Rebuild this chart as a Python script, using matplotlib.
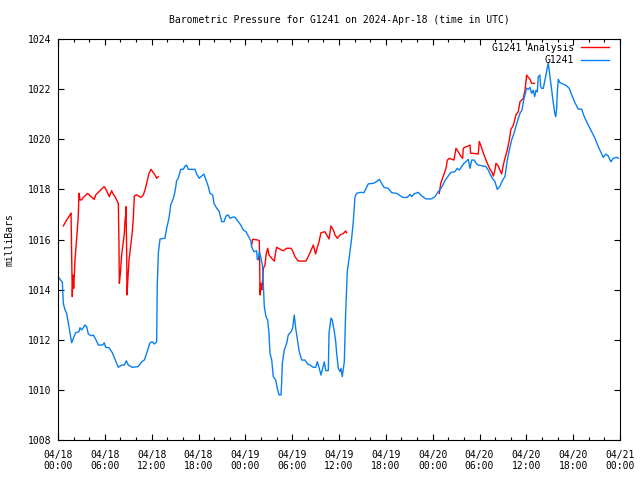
import numpy as np
import matplotlib
matplotlib.use("Agg")
import matplotlib.pyplot as plt
from matplotlib.ticker import MultipleLocator

# hours since 2024-04-18 00:00 UTC
station_hours = [
    0.00, 0.56, 0.68, 0.90, 1.11, 1.33, 1.54, 1.75, 1.97, 2.26, 2.69, 2.82, 3.03, 3.46, 3.67,
    3.88, 4.23, 4.53, 4.83, 5.17, 5.72, 5.93, 6.10, 6.53, 6.96, 7.30, 7.73, 8.15, 8.50, 8.75,
    9.01, 9.52, 10.29, 10.72, 11.06, 11.36, 11.79, 12.08, 12.34, 12.64, 12.72, 12.85, 13.07,
    13.70, 13.92, 14.22, 14.44, 14.77, 14.99, 15.20, 15.41, 15.72, 16.06, 16.27, 16.48, 16.69,
    17.55, 17.77, 18.10, 18.40, 18.70, 18.96, 19.26, 19.47, 19.82, 19.98, 20.33, 20.66, 20.97,
    21.27, 21.52, 21.81, 22.03, 22.38, 22.67, 23.10, 23.41, 23.74, 24.09, 24.38, 24.69, 24.81,
    25.10, 25.45, 25.53, 25.66, 25.79, 25.97, 26.20, 26.43, 26.65, 26.86, 27.03, 27.16, 27.38,
    27.58, 27.89, 28.10, 28.31, 28.57, 28.66, 28.74, 28.99, 29.30, 29.50, 29.85, 30.06, 30.27,
    30.45, 30.71, 30.91, 31.22, 31.64, 31.99, 32.28, 32.71, 33.01, 33.22, 33.44, 33.69, 33.91,
    34.12, 34.30, 34.63, 34.72, 34.97, 35.14, 35.40, 35.58, 35.70, 35.91, 36.13, 36.26, 36.42,
    36.68, 36.85, 37.06, 37.32, 37.62, 37.83, 38.05, 38.27, 38.69, 39.20, 39.46, 39.75, 40.40,
    40.83, 41.17, 41.47, 41.76, 42.32, 42.75, 43.39, 44.16, 44.75, 45.10, 45.32, 45.61, 46.16,
    46.60, 47.14, 47.87, 48.30, 48.72, 49.15, 49.58, 50.00, 50.31, 50.86, 51.15, 51.41, 51.72,
    52.01, 52.27, 52.56, 52.78, 53.00, 53.34, 53.55, 53.84, 54.48, 54.83, 55.12, 55.56, 55.98,
    56.28, 56.62, 56.97, 57.26, 57.56, 57.82, 58.12, 58.42, 58.84, 59.19, 59.45, 59.66, 60.04,
    60.25, 60.47, 60.68, 60.89, 61.07, 61.24, 61.41, 61.53, 61.74, 61.83, 61.96, 62.17, 62.39,
    62.60, 62.81, 63.03, 63.25, 63.46, 63.64, 63.76, 63.89, 63.96, 64.09, 64.31, 64.73, 65.16,
    65.50, 65.81, 66.23, 66.65, 67.09, 67.42, 67.93, 68.37, 68.79, 69.22, 69.52, 69.86, 70.20,
    70.49, 70.84, 71.14, 71.58, 71.79,
]
station_mb = [
    1014.52, 1014.29, 1013.45, 1013.19, 1013.05, 1012.66, 1012.26, 1011.88, 1012.06, 1012.28,
    1012.32, 1012.48, 1012.39, 1012.59, 1012.52, 1012.23, 1012.16, 1012.19, 1012.02, 1011.79,
    1011.79, 1011.88, 1011.70, 1011.68, 1011.48, 1011.22, 1010.90, 1010.99, 1010.99, 1011.16,
    1010.99, 1010.90, 1010.93, 1011.12, 1011.19, 1011.46, 1011.88, 1011.92, 1011.83, 1011.92,
    1014.19, 1015.45, 1016.02, 1016.05, 1016.45, 1016.85, 1017.38, 1017.64, 1017.91, 1018.35,
    1018.44, 1018.80, 1018.80, 1018.93, 1018.97, 1018.80, 1018.80, 1018.61, 1018.44, 1018.53,
    1018.61, 1018.37, 1018.11, 1017.84, 1017.78, 1017.44, 1017.25, 1017.11, 1016.71, 1016.71,
    1016.94, 1016.98, 1016.85, 1016.89, 1016.89, 1016.71, 1016.58, 1016.38, 1016.31, 1016.14,
    1015.95, 1015.71, 1015.51, 1015.55, 1015.21, 1015.18, 1015.51, 1015.31, 1014.95, 1013.32,
    1012.92, 1012.79, 1012.26, 1011.46, 1011.19, 1010.53, 1010.39, 1010.06, 1009.80, 1009.80,
    1010.33, 1011.06, 1011.59, 1011.86, 1012.19, 1012.32, 1012.46, 1012.99, 1012.46, 1011.92,
    1011.52, 1011.19, 1011.19, 1011.03, 1010.99, 1010.90, 1010.90, 1011.12, 1010.90, 1010.59,
    1010.86, 1011.12, 1010.77, 1010.77, 1012.26, 1012.86, 1012.79, 1012.32, 1011.92, 1011.46,
    1010.86, 1010.73, 1010.86, 1010.53, 1011.12, 1013.05, 1014.72, 1015.31, 1016.05, 1016.71,
    1017.71, 1017.84, 1017.88, 1017.87, 1018.04, 1018.22, 1018.24, 1018.31, 1018.40, 1018.24,
    1018.08, 1018.04, 1017.87, 1017.84, 1017.68, 1017.68, 1017.80, 1017.71, 1017.82, 1017.88,
    1017.74, 1017.62, 1017.62, 1017.71, 1017.91, 1018.08, 1018.35, 1018.53, 1018.67, 1018.71,
    1018.84, 1018.77, 1018.91, 1019.04, 1019.11, 1019.20, 1018.84, 1019.17, 1019.17, 1019.04,
    1018.97, 1018.93, 1018.91, 1018.77, 1018.48, 1018.31, 1018.00, 1018.13, 1018.37, 1018.51,
    1019.17, 1019.57, 1019.97, 1020.24, 1020.70, 1021.04, 1021.17, 1021.57, 1022.04, 1021.99,
    1022.07, 1021.83, 1021.96, 1021.70, 1021.96, 1021.89, 1022.50, 1022.56, 1022.10, 1022.03,
    1022.03, 1022.37, 1022.70, 1023.04, 1022.50, 1021.96, 1021.44, 1021.04, 1020.90, 1021.23,
    1021.83, 1022.39, 1022.26, 1022.20, 1022.13, 1022.03, 1021.77, 1021.46, 1021.20, 1021.20,
    1020.90, 1020.57, 1020.30, 1020.04, 1019.70, 1019.50, 1019.28, 1019.41, 1019.33, 1019.10,
    1019.24, 1019.28, 1019.24,
]

# analysis runs, one list per day
analysis_hours_1 = [
    0.68, 1.11, 1.54, 1.67, 1.75, 1.83, 1.92, 2.01, 2.18, 2.31, 2.47, 2.60, 2.69, 2.82, 3.03,
    3.24, 3.80, 4.23, 4.65, 4.83, 5.38, 5.93, 6.23, 6.57, 6.88, 7.01, 7.30, 7.73, 7.81, 7.86,
    7.99, 8.15, 8.37, 8.50, 8.58, 8.67, 8.71, 8.80, 8.84, 8.97, 9.10, 9.35, 9.52, 9.65, 9.78,
    10.08, 10.63, 10.93, 11.15, 11.36, 11.66, 11.91, 12.12, 12.43, 12.64, 12.85,
]
analysis_mb_1 = [
    1016.54, 1016.78, 1016.98, 1017.05, 1015.38, 1013.72, 1014.58, 1014.05, 1015.18, 1015.74,
    1016.35, 1016.98, 1017.84, 1017.58, 1017.58, 1017.68, 1017.84, 1017.71, 1017.60, 1017.78,
    1017.95, 1018.11, 1017.95, 1017.71, 1017.95, 1017.84, 1017.71, 1017.44, 1015.85, 1014.25,
    1014.65, 1015.38, 1015.91, 1016.25, 1016.71, 1016.98, 1017.31, 1015.45, 1013.79, 1014.52,
    1015.18, 1015.85, 1016.31, 1016.85, 1017.74, 1017.78, 1017.68, 1017.78, 1017.98, 1018.24,
    1018.64, 1018.80, 1018.71, 1018.57, 1018.44, 1018.51,
]
analysis_hours_2 = [
    24.81, 24.94, 25.58, 25.79, 25.84, 25.88, 26.01, 26.10, 26.22, 26.31, 26.52, 26.65, 26.87,
    27.03, 27.38, 27.71, 27.89, 28.02, 28.44, 28.86, 29.30, 29.85, 30.06, 30.36, 30.78, 31.77,
    32.15, 32.71, 32.84, 33.00, 33.22, 33.44, 33.69, 34.20, 34.72, 34.97, 35.27, 35.49, 35.78,
    36.13, 36.56, 36.85, 36.98,
]
analysis_mb_2 = [
    1015.78, 1016.01, 1015.98, 1015.95, 1014.92, 1013.79, 1014.25, 1013.99, 1014.38, 1014.85,
    1014.98, 1015.38, 1015.65, 1015.38, 1015.25, 1015.14, 1015.51, 1015.69, 1015.61, 1015.55,
    1015.65, 1015.65, 1015.55, 1015.31, 1015.14, 1015.14, 1015.38, 1015.78, 1015.61, 1015.42,
    1015.69, 1015.91, 1016.27, 1016.31, 1016.02, 1016.54, 1016.38, 1016.18, 1016.05, 1016.18,
    1016.24, 1016.34, 1016.27,
]
analysis_hours_3 = [
    48.85, 49.03, 49.36, 49.71, 49.88, 50.14, 50.73, 50.99, 51.28, 51.59, 51.84, 51.92, 52.27,
    52.56, 52.78, 52.86, 53.11, 53.84, 53.97, 54.15, 54.36, 54.66, 55.00, 55.35, 55.56, 55.77,
    55.98, 56.11, 56.41, 56.62, 56.84, 57.05, 57.26, 57.56, 57.82, 58.00, 58.34, 58.67, 58.97,
    59.19, 59.61, 59.83, 60.04, 60.25, 60.47, 60.68, 61.04,
]
analysis_mb_3 = [
    1017.84, 1018.24, 1018.53, 1018.84, 1019.17, 1019.24, 1019.17, 1019.64, 1019.50, 1019.33,
    1019.24, 1019.64, 1019.70, 1019.73, 1019.77, 1019.44, 1019.44, 1019.41, 1019.91, 1019.77,
    1019.57, 1019.31, 1019.04, 1018.80, 1018.71, 1018.53, 1018.77, 1019.04, 1018.93, 1018.77,
    1018.61, 1018.97, 1019.24, 1019.57, 1019.97, 1020.37, 1020.57, 1020.97, 1021.10, 1021.50,
    1021.63, 1021.96, 1022.56, 1022.47, 1022.39, 1022.23, 1022.23,
]

tick_hours = [0, 6, 12, 18, 24, 30, 36, 42, 48, 54, 60, 66, 72]
tick_labels = ["04/18\n00:00", "04/18\n06:00", "04/18\n12:00", "04/18\n18:00",
               "04/19\n00:00", "04/19\n06:00", "04/19\n12:00", "04/19\n18:00",
               "04/20\n00:00", "04/20\n06:00", "04/20\n12:00", "04/20\n18:00",
               "04/21\n00:00"]

plt.rcParams["font.family"] = ["DejaVu Sans Mono"]
plt.rcParams["font.size"] = 7

fig = plt.figure(figsize=(6.4, 4.8), dpi=100)
ax = fig.add_axes([58 / 640, 40 / 480, 562 / 640, 401 / 480])

red = "#ff0000"
blue = "#0a80f0"
ax.plot(analysis_hours_1, analysis_mb_1, color=red, lw=1, label="G1241 Analysis")
ax.plot(analysis_hours_2, analysis_mb_2, color=red, lw=1)
ax.plot(analysis_hours_3, analysis_mb_3, color=red, lw=1)
ax.plot(station_hours, station_mb, color=blue, lw=1, label="G1241")

ax.set_xlim(0, 72)
ax.set_ylim(1008, 1024)
ax.set_xticks(tick_hours)
ax.set_xticklabels(tick_labels)
ax.xaxis.set_minor_locator(MultipleLocator(2))
ax.yaxis.set_major_locator(MultipleLocator(2))
ax.tick_params(which="both", direction="in", top=True, right=True, width=0.8)
ax.tick_params(which="major", length=4.5)
ax.tick_params(which="minor", length=2.2)
ax.tick_params(axis="x", pad=7)
ax.tick_params(axis="y", pad=5)
for s in ax.spines.values():
    s.set_linewidth(0.8)

leg = ax.legend(loc="upper right", bbox_to_anchor=(1 - 6 / 562, 1 + 1 / 401),
                frameon=False, markerfirst=False,
                handlelength=2.9, handletextpad=0.7, labelspacing=0.25,
                borderaxespad=0.3, borderpad=0.2)
for t in leg.get_texts():
    t.set_ha("right")

fig.text(339 / 640, 1 - 20 / 480,
         "Barometric Pressure for G1241 on 2024-Apr-18 (time in UTC)",
         ha="center", va="center")
fig.text(10 / 640, 0.5, "milliBars", rotation=90, ha="center", va="center")

fig.savefig("out.png", dpi=100)
